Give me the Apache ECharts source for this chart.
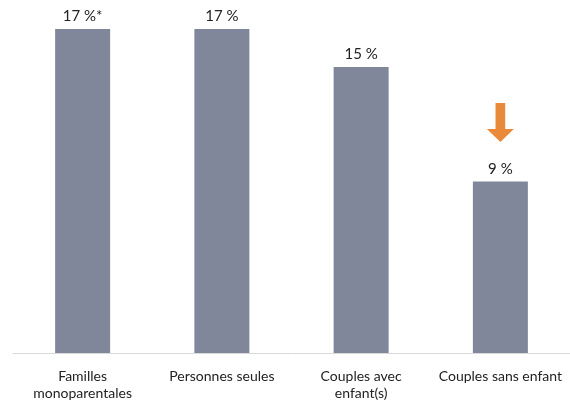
<!DOCTYPE html>
<html>
<head>
<meta charset="utf-8">
<script src="https://cdn.jsdelivr.net/npm/echarts@6/dist/echarts.min.js"></script>
<style>
html,body{margin:0;padding:0;background:#fff;}
#chart{width:570px;height:402px;}
</style>
</head>
<body>
<div id="chart"></div>
<script>
// Household categories and their shares (%)
const categories = ['Familles\nmonoparentales', 'Personnes seules', 'Couples avec\nenfant(s)', 'Couples sans enfant'];
const values = [17, 17, 15, 9];
const valueLabels = ['17 %*', '17 %', '15 %', '9 %'];
// Downward arrow placed above the last bar
const arrowPoint = [['Couples sans enfant', 12.1]];

const FONT = 'Lato, "Open Sans", sans-serif';
const chart = echarts.init(document.getElementById('chart'), null, {renderer: 'canvas'});
chart.setOption({
  animation: false,
  grid: {left: 13, right: 0, top: 29, bottom: 48},
  xAxis: {
    type: 'category',
    data: categories,
    axisLine: {lineStyle: {color: '#d9d9d9', width: 1}},
    axisTick: {show: false},
    axisLabel: {color: '#222', fontSize: 14, fontFamily: FONT, margin: 15, lineHeight: 17, interval: 0}
  },
  yAxis: {
    type: 'value', min: 0, max: 17,
    show: false, splitLine: {show: false}
  },
  series: [
    {
      type: 'bar',
      data: values,
      barWidth: 55,
      itemStyle: {color: '#80879a'},
      label: {
        show: true, position: 'top', distance: 5,
        color: '#222', fontSize: 15, fontFamily: FONT,
        formatter: p => valueLabels[p.dataIndex]
      }
    },
    {
      type: 'scatter',
      data: arrowPoint,
      symbol: 'path://M9,0 L19,0 L19,26 L28,26 L14,39 L0,26 L9,26 Z',
      symbolSize: [27, 39],
      itemStyle: {color: '#e36c09'},
      silent: true
    }
  ]
});
</script>
</body>
</html>
